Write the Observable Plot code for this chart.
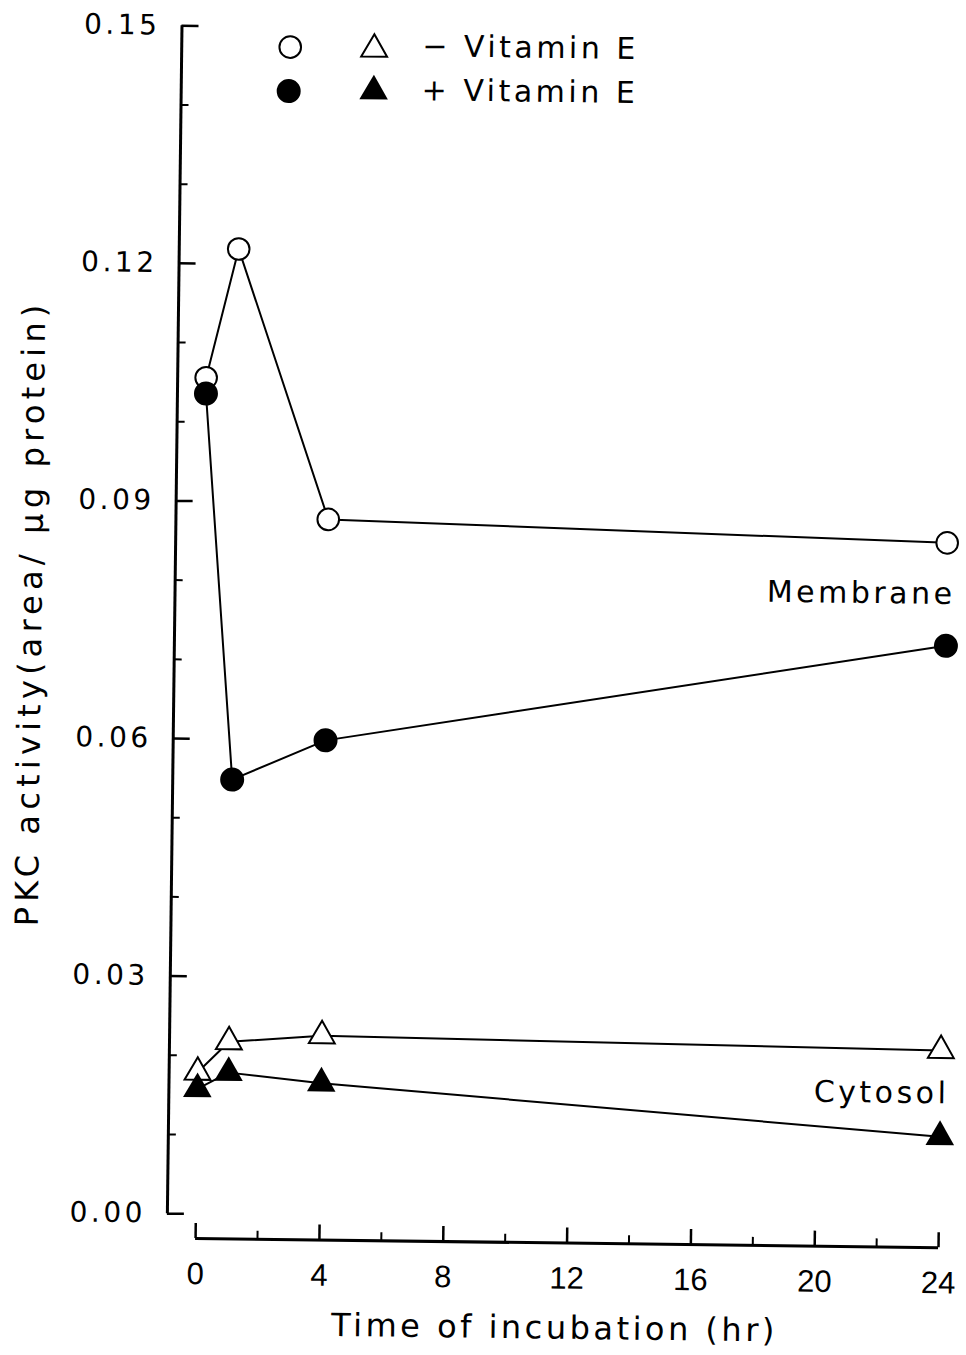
<!DOCTYPE html>
<html><head><meta charset="utf-8">
<script src="https://cdn.jsdelivr.net/npm/d3@7"></script>
<script src="https://cdn.jsdelivr.net/npm/@observablehq/plot@0.6"></script>
<style>
body{margin:0;background:#fff;}
#chart{width:966px;height:1355px;overflow:hidden;background:#fff;}
#chart svg{transform:rotate(0.705deg);transform-origin:483px 677px;}
</style></head><body><div id="chart"></div>
<script>
// ---- data ----
const times = [0, 1, 4, 24];
const membraneMinusE = [0.1056, 0.1219, 0.0879, 0.0859];
const membranePlusE  = [0.1036, 0.0549, 0.0600, 0.0729];
const cytosolMinusE  = [0.0179, 0.0218, 0.0227, 0.0218];
const cytosolPlusE   = [0.0158, 0.0179, 0.0167, 0.0109];

const xMajorTicks = [0, 4, 8, 12, 16, 20, 24];
const xMinorTicks = [2, 6, 10, 14, 18, 22];
const yMajorTicks = [0, 0.03, 0.06, 0.09, 0.12, 0.15];
const yMinorTicks = [0.01, 0.02, 0.04, 0.05, 0.07, 0.08, 0.10, 0.11, 0.13, 0.14];

const xLabel = "Time of incubation (hr)";
const yLabel = "PKC activity(area/ \u03bcg protein)";
const legendLabels = ["\u2212 Vitamin E", "+ Vitamin E"];
const regionLabels = ["Membrane", "Cytosol"];

// ---- build ----
const rows = vals => times.map((t, i) => ({t, v: vals[i]}));
const mMinus = rows(membraneMinusE), mPlus = rows(membranePlusE);
const cMinus = rows(cytosolMinusE), cPlus = rows(cytosolPlusE);
const regions = [
  {label: regionLabels[0], t: times[3], v: (membraneMinusE[3] + membranePlusE[3]) / 2},
  {label: regionLabels[1], t: times[3], v: (cytosolMinusE[3] + cytosolPlusE[3]) / 2}
];
const lineOpts = {x: "t", y: "v", stroke: "black", strokeWidth: 2};
const noText = () => "";

const chart = Plot.plot({
  width: 966, height: 1355,
  marginLeft: 202, marginRight: 21, marginTop: 29, marginBottom: 138,
  x: {domain: [0, 24], label: null},
  y: {domain: [0, 0.15], label: null},
  style: {fontFamily: "DejaVu Sans", background: "white", color: "black", overflow: "visible"},
  marks: [
    // axes lines
    Plot.ruleX([0], {y1: 0, y2: 0.15, dx: -28.5, strokeWidth: 3}),
    Plot.ruleY([0], {x1: 0, x2: 24, dy: 24.5, strokeWidth: 3}),
    // y ticks (inward)
    Plot.axisY(yMajorTicks, {anchor: "left", tickSize: 17, dx: -11.5, tickFormat: noText, strokeWidth: 2.5, label: null}),
    Plot.axisY(yMinorTicks, {anchor: "left", tickSize: 8, dx: -20.5, tickFormat: noText, strokeWidth: 2, label: null}),
    Plot.axisY(yMajorTicks, {anchor: "left", tickSize: 0, tickPadding: 50, tickFormat: d3.format(".2f"), fontSize: 28, label: null}),
    // x ticks (upward from baseline)
    Plot.axisX(xMajorTicks, {anchor: "bottom", tickSize: 15, dy: 9.5, tickFormat: noText, strokeWidth: 2.5, label: null}),
    Plot.axisX(xMinorTicks, {anchor: "bottom", tickSize: 8, dy: 16.5, tickFormat: noText, strokeWidth: 2, label: null}),
    Plot.axisX(xMajorTicks, {anchor: "bottom", tickSize: 0, tickPadding: 48, tickFormat: d => String(d), fontSize: 31, fontFamily: "Liberation Sans", label: null}),
    // titles
    Plot.text([xLabel], {text: d => d, frameAnchor: "bottom", lineAnchor: "middle", textAnchor: "middle", dx: -11.5, dy: 110, fontSize: 32}),
    Plot.text([yLabel], {text: d => d, frameAnchor: "left", lineAnchor: "middle", textAnchor: "middle", rotate: -90, dx: -172, dy: -5, fontSize: 32}),
    // series lines
    Plot.line(mMinus, lineOpts),
    Plot.line(mPlus, lineOpts),
    Plot.line(cMinus, lineOpts),
    Plot.line(cPlus, lineOpts),
    // markers
    Plot.dot(mMinus, {x: "t", y: "v", symbol: "circle", r: 10.8, fill: "white", stroke: "black", strokeWidth: 2}),
    Plot.dot(mPlus, {x: "t", y: "v", symbol: "circle", r: 12, fill: "black", stroke: "none"}),
    Plot.dot(cMinus, {x: "t", y: "v", symbol: "triangle", r: 9.6, fill: "white", stroke: "black", strokeWidth: 2}),
    Plot.dot(cPlus, {x: "t", y: "v", symbol: "triangle", r: 10.6, fill: "black", stroke: "none"}),
    // region labels
    Plot.text(regions, {x: "t", y: "v", text: "label", textAnchor: "end", dx: 9, fontSize: 30}),
    // legend
    Plot.dot([legendLabels[0]], {frameAnchor: "top-left", dx: 80, dy: 20, symbol: "circle", r: 10.8, fill: "white", stroke: "black", strokeWidth: 2}),
    Plot.dot([legendLabels[0]], {frameAnchor: "top-left", dx: 164, dy: 21, symbol: "triangle", r: 9.6, fill: "white", stroke: "black", strokeWidth: 2}),
    Plot.dot([legendLabels[1]], {frameAnchor: "top-left", dx: 79, dy: 64, symbol: "circle", r: 12, fill: "black", stroke: "none"}),
    Plot.dot([legendLabels[1]], {frameAnchor: "top-left", dx: 164, dy: 63, symbol: "triangle", r: 10.6, fill: "black", stroke: "none"}),
    Plot.text([legendLabels[0]], {text: d => d, frameAnchor: "top-left", lineAnchor: "middle", dx: 212, dy: 18, textAnchor: "start", fontSize: 30}),
    Plot.text([legendLabels[1]], {text: d => d, frameAnchor: "top-left", lineAnchor: "middle", dx: 212, dy: 62, textAnchor: "start", fontSize: 30})
  ]
});

// letter spacing to mimic the original widely spaced lettering
d3.select(chart).selectAll("text").each(function() {
  const s = d3.select(this);
  const t = this.textContent;
  if (/^\d+$/.test(t)) return;
  if (t === yLabel) s.style("letter-spacing", "5.2px");
  else s.style("letter-spacing", "3.5px");
});

document.getElementById("chart").appendChild(chart);
</script></body></html>
